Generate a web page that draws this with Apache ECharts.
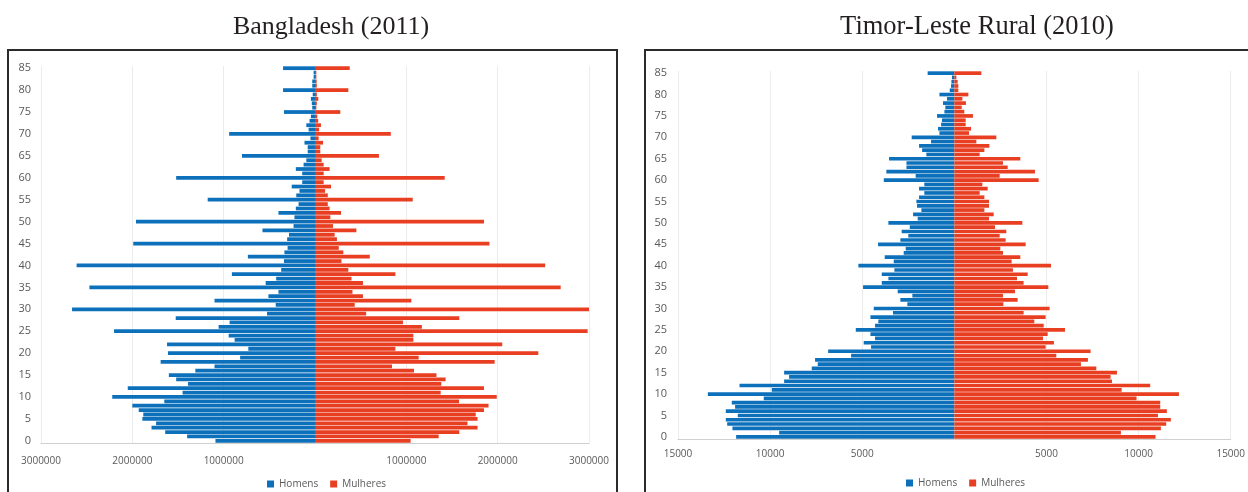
<!DOCTYPE html>
<html>
<head>
<meta charset="utf-8">
<title>Pirâmides etárias</title>
<script src="https://cdn.jsdelivr.net/npm/echarts@6/dist/echarts.min.js"></script>
<style>
    html, body { margin: 0; padding: 0; background: #fff; }
    #chart { width: 1248px; height: 492px; }
</style>
</head>
<body>
<div id="chart"></div>
<script>
// ages 0..85, bottom to top
const ages = []
for (let i = 0; i <= 85; i++) ages.push(String(i))

// Bangladesh (2011)
const bdHomens = [
    1090000, 1400000, 1640000, 1790000, 1740000, 1890000, 1880000, 1930000, 2000000, 1650000,
    2220000, 1450000, 2050000, 1390000, 1520000, 1600000, 1310000, 1100000, 1690000, 820000,
    1610000, 730000, 1620000, 880000, 945000, 2200000, 1055000, 935000, 1525000, 525000,
    2660000, 430000, 1100000, 510000, 400000, 2470000, 540000, 425000, 910000, 370000,
    2610000, 340000, 735000, 335000, 300000, 1990000, 305000, 285000, 575000, 235000,
    1960000, 225000, 400000, 210000, 180000, 1175000, 205000, 170000, 255000, 140000,
    1520000, 140000, 210000, 125000, 95000, 800000, 80000, 80000, 115000, 50000,
    940000, 70000, 95000, 60000, 45000, 340000, 30000, 35000, 45000, 25000,
    350000, 30000, 30000, 15000, 15000, 350000
]
const bdMulheres = [
    1047000, 1354000, 1580000, 1780000, 1670000, 1780000, 1760000, 1850000, 1900000, 1577000,
    1990000, 1376000, 1850000, 1383000, 1430000, 1330000, 1084000, 843000, 1967000, 1135000,
    2445000, 880000, 2050000, 1077000, 1077000, 2985000, 1170000, 963000, 1580000, 560000,
    3000000, 435000, 1055000, 525000, 410000, 2690000, 525000, 400000, 880000, 365000,
    2520000, 290000, 600000, 310000, 260000, 1910000, 240000, 215000, 453000, 197000,
    1850000, 168000, 285000, 160000, 140000, 1070000, 140000, 110000, 175000, 95000,
    1420000, 95000, 160000, 95000, 73000, 700000, 58000, 58000, 88000, 40000,
    830000, 45000, 65000, 35000, 25000, 277000, 15000, 20000, 36000, 20000,
    365000, 20000, 18000, 15000, 15000, 380000
]

// Timor-Leste Rural (2010)
const tlHomens = [
    11845, 9510, 12045, 12330, 12405, 11755, 12405, 11900, 12080, 10345,
    13380, 9910, 11660, 9240, 8970, 9240, 7740, 7415, 7560, 5605,
    6850, 4520, 4920, 4305, 4555, 5350, 4305, 4125, 4555, 3330,
    4375, 2550, 2930, 2280, 3075, 4955, 3940, 3580, 3940, 3255,
    5210, 3290, 3780, 2750, 2640, 4140, 2930, 2500, 2860, 2420,
    3580, 1990, 2240, 1790, 2025, 2060, 1915, 1630, 1915, 1630,
    3830, 2100, 3690, 2600, 2600, 3545, 1520, 1750, 1915, 1265,
    2315, 810, 885, 720, 670, 940, 540, 490, 615, 400,
    810, 250, 180, 160, 130, 1450
]
const tlMulheres = [
    10920, 9040, 11210, 11500, 11750, 11050, 11535, 11175, 11175, 9890,
    12190, 9080, 10630, 8555, 8480, 8825, 7705, 6870, 7250, 5535,
    7395, 4955, 5405, 4810, 5065, 6005, 4850, 4340, 4955, 3760,
    5170, 2660, 3435, 2640, 3290, 5100, 3760, 3400, 3980, 3180,
    5245, 3110, 3580, 2640, 2495, 3870, 2785, 2460, 2820, 2205,
    3690, 1880, 2135, 1630, 1880, 1880, 1630, 1375, 1810, 1520,
    4575, 2460, 4375, 2895, 2640, 3580, 1375, 1630, 1900, 1195,
    2280, 795, 905, 615, 615, 1010, 540, 400, 630, 435,
    760, 215, 215, 180, 110, 1465
]

const BLUE = '#0d70bb'
const RED = '#e83e22'
const labelColor = '#595959'

const absLabel = v => (v === 0 ? '' : String(Math.abs(v)))

function xAxisFor(gridIndex, max, interval, margin) {
    return {
        type: 'value',
        gridIndex: gridIndex,
        min: -max,
        max: max,
        interval: interval,
        axisLine: { show: true, lineStyle: { color: '#d0d0d0' } },
        axisTick: { show: false },
        axisLabel: { formatter: absLabel, color: labelColor, fontSize: 10, margin: margin, fontFamily: 'Open Sans' },
        splitLine: { show: true, lineStyle: { color: '#ececec' } }
    }
}

function yAxisFor(gridIndex, margin) {
    return {
        type: 'category',
        gridIndex: gridIndex,
        data: ages,
        axisLine: { show: false },
        axisTick: { show: false },
        axisLabel: { interval: 4, color: labelColor, fontSize: 11, margin: margin, fontFamily: 'Open Sans' },
        splitLine: { show: false }
    }
}

function barSeries(name, idx, data, color, negative) {
    return {
        name: name,
        type: 'bar',
        xAxisIndex: idx,
        yAxisIndex: idx,
        barWidth: '86%',
        barGap: '-100%',
        itemStyle: { color: color },
        emphasis: { disabled: true },
        data: negative ? data.map(v => -v) : data
    }
}

const chart = echarts.init(document.getElementById('chart'))

chart.setOption({
    animation: false,
    title: [{
        text: 'Bangladesh (2011)',
        left: 326,
        top: 9,
        textAlign: 'center',
        textStyle: { fontFamily: 'Liberation Serif', fontSize: 26, fontWeight: 'normal', color: '#231f20' }
    }, {
        text: 'Timor-Leste Rural (2010)',
        left: 972,
        top: 9,
        textAlign: 'center',
        textStyle: { fontFamily: 'Liberation Serif', fontSize: 26.5, fontWeight: 'normal', color: '#231f20' }
    }],
    graphic: [{
        type: 'rect',
        shape: { x: 8, y: 50, width: 609, height: 470 },
        style: { fill: 'none', stroke: '#2b2b2b', lineWidth: 2 },
        silent: true
    }, {
        type: 'rect',
        shape: { x: 645, y: 50, width: 640, height: 470 },
        style: { fill: 'none', stroke: '#2b2b2b', lineWidth: 2 },
        silent: true
    }],
    legend: [{
        data: ['Homens', 'Mulheres'],
        left: 262,
        top: 474,
        itemWidth: 7,
        itemHeight: 7,
        itemGap: 12,
        icon: 'rect',
        textStyle: { color: labelColor, fontSize: 10, fontFamily: 'Open Sans' }
    }, {
        data: ['Homens', 'Mulheres'],
        left: 901,
        top: 473,
        itemWidth: 7,
        itemHeight: 7,
        itemGap: 12,
        icon: 'rect',
        textStyle: { color: labelColor, fontSize: 10, fontFamily: 'Open Sans' }
    }],
    grid: [
        { left: 41, top: 66, width: 548, height: 377 },
        { left: 678, top: 71, width: 553, height: 368 }
    ],
    xAxis: [
        xAxisFor(0, 3000000, 1000000, 13),
        xAxisFor(1, 15000, 5000, 10)
    ],
    yAxis: [
        yAxisFor(0, 10),
        yAxisFor(1, 11)
    ],
    series: [
        barSeries('Homens', 0, bdHomens, BLUE, true),
        barSeries('Mulheres', 0, bdMulheres, RED, false),
        barSeries('Homens', 1, tlHomens, BLUE, true),
        barSeries('Mulheres', 1, tlMulheres, RED, false)
    ]
})
</script>
</body>
</html>
